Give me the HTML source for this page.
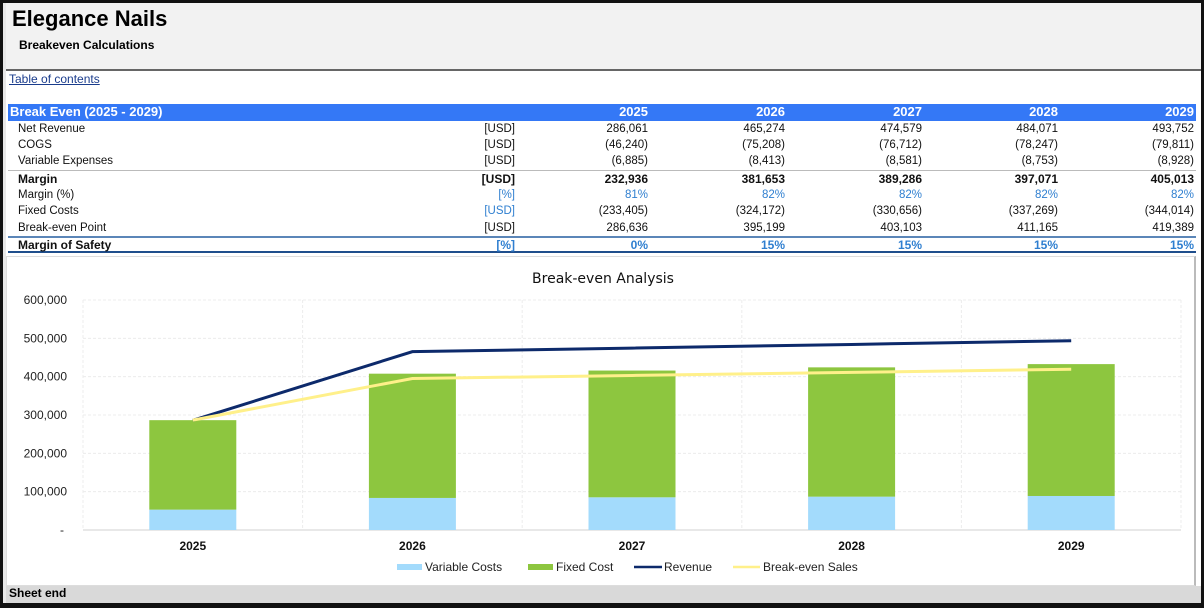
<!DOCTYPE html>
<html><head><meta charset="utf-8">
<style>
*{margin:0;padding:0;box-sizing:border-box}
body{width:1204px;height:608px;position:relative;background:#fff;font-family:"Liberation Sans",Arial,sans-serif;overflow:hidden}
.abs{position:absolute}
.row{position:absolute;left:8px;width:1188px;height:16px;font-size:11.5px;line-height:16px;color:#111}
.row span{position:absolute;top:0;text-align:right}
.lbl{left:10px;text-align:left!important}
.u{right:681px}.c1{right:548px}.c2{right:411px}.c3{right:274px}.c4{right:138px}.c5{right:2px}
.b{font-weight:bold}
.blue{color:#2f7fd0}
</style></head><body>
<div class="abs" style="left:0;top:0;width:6px;height:608px;background:#e8e8e8;border-left:3px solid #111"></div>
<div class="abs" style="left:6px;top:3px;width:1198px;height:68px;background:#f2f2f2;border-bottom:2px solid #666"></div>
<div class="abs" style="left:12px;top:6px;font-size:22px;font-weight:bold;color:#000">Elegance Nails</div>
<div class="abs" style="left:19px;top:38px;font-size:12px;font-weight:bold;color:#000">Breakeven Calculations</div>
<div class="abs" style="left:9px;top:72px;font-size:12px;color:#1a3c8c;text-decoration:underline">Table of contents</div>

<div class="row" style="top:104px;background:#3478f6;color:#fff;font-weight:bold;font-size:13px;height:17px">
<span class="lbl" style="left:2px">Break Even (2025 - 2029)</span><span class="c1">2025</span><span class="c2">2026</span><span class="c3">2027</span><span class="c4">2028</span><span class="c5">2029</span></div>
<div class="row" style="top:121px"><span class="lbl">Net Revenue</span><span class="u">[USD]</span><span class="c1">286,061</span><span class="c2">465,274</span><span class="c3">474,579</span><span class="c4">484,071</span><span class="c5">493,752</span></div>
<div class="row" style="top:137px"><span class="lbl">COGS</span><span class="u">[USD]</span><span class="c1">(46,240)</span><span class="c2">(75,208)</span><span class="c3">(76,712)</span><span class="c4">(78,247)</span><span class="c5">(79,811)</span></div>
<div class="row" style="top:153px"><span class="lbl">Variable Expenses</span><span class="u">[USD]</span><span class="c1">(6,885)</span><span class="c2">(8,413)</span><span class="c3">(8,581)</span><span class="c4">(8,753)</span><span class="c5">(8,928)</span></div>
<div class="row b" style="top:170px;border-top:1px solid #bbb;font-size:12px"><span class="lbl">Margin</span><span class="u">[USD]</span><span class="c1">232,936</span><span class="c2">381,653</span><span class="c3">389,286</span><span class="c4">397,071</span><span class="c5">405,013</span></div>
<div class="row blue" style="top:187px"><span class="lbl" style="color:#111">Margin (%)</span><span class="u">[%]</span><span class="c1">81%</span><span class="c2">82%</span><span class="c3">82%</span><span class="c4">82%</span><span class="c5">82%</span></div>
<div class="row" style="top:203px"><span class="lbl">Fixed Costs</span><span class="u blue">[USD]</span><span class="c1">(233,405)</span><span class="c2">(324,172)</span><span class="c3">(330,656)</span><span class="c4">(337,269)</span><span class="c5">(344,014)</span></div>
<div class="row" style="top:220px"><span class="lbl">Break-even Point</span><span class="u">[USD]</span><span class="c1">286,636</span><span class="c2">395,199</span><span class="c3">403,103</span><span class="c4">411,165</span><span class="c5">419,389</span></div>
<div class="row b" style="top:236px;height:17px;border-top:2px solid #5b86b8;border-bottom:2px solid #1f4e8c;font-size:12px;line-height:14px"><span class="lbl" style="color:#111">Margin of Safety</span><span class="u blue">[%]</span><span class="c1 blue">0%</span><span class="c2 blue">15%</span><span class="c3 blue">15%</span><span class="c4 blue">15%</span><span class="c5 blue">15%</span></div>

<div class="abs" style="left:6px;top:256px;width:1190px;height:330px;border:1px solid #ddd;border-right:2px solid #bbb"></div>
<svg class="abs" style="left:0;top:0" width="1204" height="608" id="chart"></svg>
<div class="abs" style="left:6px;top:586px;width:1198px;height:17px;background:#d9d9d9;font-size:12px;font-weight:bold;line-height:15px;padding-left:3px">Sheet end</div>
<div class="abs" style="left:0;top:603px;width:1204px;height:5px;background:#111"></div>
<div class="abs" style="left:0;top:0;width:1204px;height:3px;background:#111"></div>
<div class="abs" style="left:1201px;top:0;width:3px;height:608px;background:#111"></div>

<script>
const categories=["2025","2026","2027","2028","2029"];
const variableCosts=[53125,83621,85293,87000,88739];
const fixedCosts=[233405,324172,330656,337269,344014];
const revenue=[286061,465274,474579,484071,493752];
const breakEvenSales=[286636,395199,403103,411165,419389];
const yTicks=[0,100000,200000,300000,400000,500000,600000];
const yTickLabels=["-","100,000","200,000","300,000","400,000","500,000","600,000"];

const svg=document.getElementById('chart');
const NS='http://www.w3.org/2000/svg';
const L=83,R=1181,T=300,B=530,YMAX=600000;
const band=(R-L)/categories.length;
const x=i=>L+band*(i+0.5);
const y=v=>B-(v/YMAX)*(B-T);
function mk(tag,attrs,name){const e=document.createElementNS(NS,tag);for(const k in attrs)e.setAttribute(k,attrs[k]);


svg.appendChild(e);return e;}
function txt(s,attrs,name){const e=mk('text',attrs,name);e.textContent=s;return e;}

txt("Break-even Analysis",{x:603,y:283,'text-anchor':'middle','font-size':14,fill:'#111','font-family':'DejaVu Sans, sans-serif'},'chart-title');
yTicks.forEach((t,i)=>{
  if(t>0)mk('line',{x1:L,x2:R,y1:y(t),y2:y(t),stroke:'#ececec','stroke-dasharray':'3,2'},'y-gridline');
  txt(yTickLabels[i],{x:i===0?64:67,y:y(t)+4,'text-anchor':'end','font-size':12,fill:'#222'},'y-tick-label');
});
for(let i=0;i<=categories.length;i++){
  mk('line',{x1:L+band*i,x2:L+band*i,y1:T,y2:B,stroke:'#ececec','stroke-dasharray':'3,2'},'x-gridline');
}
mk('line',{x1:L,x2:R,y1:B,y2:B,stroke:'#d0d0d0'},'x-axis');
const bw=87;
categories.forEach((c,i)=>{
  mk('rect',{x:x(i)-bw/2,y:y(variableCosts[i]),width:bw,height:B-y(variableCosts[i]),fill:'#a3dbfc'},'bar-variable-'+c);
  mk('rect',{x:x(i)-bw/2,y:y(variableCosts[i]+fixedCosts[i]),width:bw,height:y(variableCosts[i])-y(variableCosts[i]+fixedCosts[i]),fill:'#8dc63f'},'bar-fixed-'+c);
  txt(c,{x:x(i),y:550,'text-anchor':'middle','font-size':12,'font-weight':'bold',fill:'#111'},'x-tick-label');
});
mk('polyline',{points:revenue.map((v,i)=>x(i)+','+y(v)).join(' '),fill:'none',stroke:'#0d2a6b','stroke-width':3},'revenue-line');
mk('polyline',{points:breakEvenSales.map((v,i)=>x(i)+','+y(v)).join(' '),fill:'none',stroke:'#fff08a','stroke-width':3},'break-even-sales-line');

mk('rect',{x:397,y:564,width:25,height:6,fill:'#a3dbfc'},'legend-swatch-variable');
txt("Variable Costs",{x:425,y:571,'font-size':12,fill:'#222'},'legend-entry-variable');
mk('rect',{x:528,y:564,width:25,height:6,fill:'#8dc63f'},'legend-swatch-fixed');
txt("Fixed Cost",{x:556,y:571,'font-size':12,fill:'#222'},'legend-entry-fixed');
mk('line',{x1:634,x2:662,y1:567,y2:567,stroke:'#0d2a6b','stroke-width':2.5},'legend-swatch-revenue');
txt("Revenue",{x:664,y:571,'font-size':12,fill:'#222'},'legend-entry-revenue');
mk('line',{x1:733,x2:760,y1:567,y2:567,stroke:'#fff08a','stroke-width':2.5},'legend-swatch-break-even');
txt("Break-even Sales",{x:763,y:571,'font-size':12,fill:'#222'},'legend-entry-break-even');
</script>
</body></html>
